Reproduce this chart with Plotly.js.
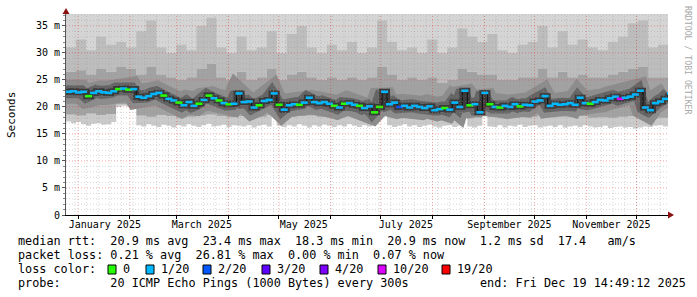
<!DOCTYPE html>
<html><head><meta charset="utf-8">
<script src="https://cdn.plot.ly/plotly-3.0.1.min.js"></script>
<style>html,body{margin:0;padding:0;background:#fff}#chart{width:697px;height:297px}</style>
</head><body><div id="chart"></div>
<script>
// ---- data (milliseconds), one value every 3 days ----
const median = [
22.8,22.9,22.7,22.8,22.0,22.6,22.9,22.7,22.6,22.9,
23.3,23.4,23.2,23.3,21.9,21.7,22.0,22.4,22.6,22.1,
21.5,21.2,20.8,20.3,20.9,20.2,20.6,21.3,22.1,21.6,
21.2,20.7,20.5,20.6,22.5,20.9,21.0,19.9,20.3,21.1,
21.3,22.5,20.4,19.5,20.3,20.5,20.4,20.8,21.7,20.9,
20.7,20.9,20.6,20.2,19.9,20.6,20.7,20.4,20.2,19.8,
20.1,19.0,20.0,22.8,20.5,20.8,20.0,20.2,19.9,20.2,
20.0,19.8,20.1,19.4,19.6,19.8,19.5,20.8,20.0,23.0,
20.3,20.5,19.0,22.6,20.5,20.0,19.9,20.2,20.0,20.5,
20.1,20.4,20.3,21.0,21.2,22.0,20.2,20.6,20.4,20.5,
20.7,20.4,21.7,20.7,20.6,20.9,21.3,21.2,21.6,21.9,
21.5,21.7,21.9,22.3,23.0,19.9,19.4,20.7,21.0,21.5,
22.5];
// packets lost out of 20
const loss = [
1,1,1,1,0,1,1,1,1,1,
0,1,0,1,1,1,1,1,1,0,
1,1,0,1,1,1,0,1,0,1,
0,1,0,1,1,1,1,1,0,1,
1,1,0,1,1,1,0,1,1,1,
1,1,1,0,1,0,1,1,0,1,
1,0,0,1,1,1,2,1,1,1,
1,1,1,1,1,0,1,1,1,1,
0,1,1,1,0,1,0,1,1,1,
0,1,1,1,1,1,1,1,1,1,
1,1,1,1,0,1,1,1,1,1,
10,1,1,1,1,1,1,1,1,1,
1];
// lowest ping
const minPing = [
17.3,17.0,17.2,16.8,16.5,16.9,17.0,16.7,16.8,17.2,
20.0,20.2,20.1,20.3,16.6,16.4,16.8,16.5,16.3,16.7,
16.5,16.2,16.6,16.4,16.8,16.5,16.3,16.6,16.9,16.4,
16.5,16.7,16.3,16.6,16.5,16.4,16.6,16.2,16.5,16.7,
16.4,20.3,16.5,16.3,16.6,16.4,16.8,16.5,16.2,16.6,
16.4,16.7,16.5,16.3,16.6,16.4,16.8,16.5,16.3,16.6,
16.4,17.2,17.8,21.0,16.6,16.3,16.5,16.8,16.4,16.6,
16.3,16.5,16.7,16.4,16.2,16.5,16.6,16.3,16.5,20.6,
16.4,16.2,16.5,20.8,16.4,16.3,16.6,16.2,16.5,16.4,
16.7,16.3,16.5,16.6,16.2,16.4,16.5,16.3,16.6,16.2,
16.4,16.5,16.3,16.6,16.4,16.2,16.3,16.5,16.1,16.3,
16.4,16.2,16.3,16.0,16.2,16.4,16.3,16.5,16.6,16.4,
16.5];
// smoke band edges, one value every 6 days
const smokeLow = [
18.6,18.4,18.8,18.5,18.7,20.5,20.8,18.4,18.2,18.5,
18.3,18.0,18.2,18.4,18.6,18.3,18.1,18.3,18.0,18.2,
18.5,18.0,18.2,18.3,18.4,18.2,18.0,18.1,18.3,18.0,
18.2,18.5,18.3,18.0,18.1,18.0,18.2,17.9,18.0,18.4,
18.3,18.0,18.2,17.9,18.0,18.1,18.2,18.4,18.1,18.2,
18.1,18.3,18.0,18.1,18.0,18.2,18.3,18.4,17.8,18.0,
18.2];
const smokeMid = [
26.5,26.8,26.0,27.0,26.5,27.5,27.0,26.0,27.5,26.0,
25.5,25.0,25.5,27.0,28.0,25.5,25.0,26.5,25.0,25.5,
27.0,25.0,26.0,26.5,25.5,25.0,25.5,25.0,25.5,25.0,
25.5,27.5,26.0,25.0,25.5,25.0,25.5,24.5,25.0,27.0,
26.5,26.0,26.0,25.0,25.0,25.5,25.5,27.0,25.5,26.5,
25.5,26.0,25.5,25.5,26.0,26.5,27.0,27.5,25.5,25.5,
26.0];
const smokeHigh = [
31.0,32.5,30.5,33.0,31.5,32.0,31.0,34.0,36.0,31.0,
30.0,31.5,30.5,35.0,36.5,31.0,30.0,33.0,30.5,31.0,
34.0,30.0,33.5,35.0,31.0,30.0,31.5,30.5,32.0,30.0,
31.0,36.0,32.0,30.5,31.0,30.0,32.5,30.0,31.0,34.5,
33.0,32.0,33.5,30.5,30.0,31.5,32.0,35.0,31.0,34.0,
31.5,32.5,31.0,30.5,32.0,33.0,35.5,36.0,31.0,31.5,
32.0];
const yTickVals = [0,5,10,15,20,25,30,35];
const yTickText = ['0','5 m','10 m','15 m','20 m','25 m','30 m','35 m'];
const xTickVals = ['2025-01-17','2025-03-16','2025-05-16','2025-07-16','2025-09-16','2025-11-16'];
const xTickText = ['January 2025','March 2025','May 2025','July 2025','September 2025','November 2025'];
const lossColors = {0:'#26ff00',1:'#00b8ff',2:'#0059ff',3:'#5e00ff',4:'#7e00ff',10:'#dd00ff',19:'#ff0000'};
const lossKeys = [0,1,2,3,4,10,19];
const lossLabels = ['0','1/20','2/20','3/20','4/20','10/20','19/20'];

// ---- time axis ----
const DAY = 864e5;
const t0 = Date.UTC(2024,11,24,19,0);
const fmt = ms => new Date(ms).toISOString().slice(0,16).replace('T',' ');
const dates3 = median.map((_,i)=>fmt(t0+i*3*DAY));
const datesMid = median.map((_,i)=>fmt(t0+(i*3+1.5)*DAY));
const dates6 = smokeLow.map((_,j)=>fmt(t0+j*6*DAY));
const tEnd = t0+(median.length-1)*3*DAY;

const mono = 'DejaVu Sans Mono, monospace';
const band = (x,y,fill,fc) => ({x:x,y:y,type:'scatter',mode:'lines',line:{width:0,shape:'hv'},fill:fill,fillcolor:fc,hoverinfo:'skip'});
const mline = (w,c,shape) => ({x:dates3,y:median,type:'scatter',mode:'lines',line:{width:w,shape:shape,color:c},hoverinfo:'skip'});
const traces = [
 band(dates6,smokeLow,'tozeroy','#cacaca'),
 band(dates6,smokeMid,'tonexty','#a2a2a2'),
 band(dates6,smokeHigh,'tonexty','#bdbdbd'),
 band(dates3,minPing,'tozeroy','#ffffff'),
 mline(24,'#8c8c8c','linear'),
 mline(13,'#646464','linear'),
 mline(6,'#3a3a3a','hv'),
 mline(1,'#111111','hv'),
 {x:datesMid,y:median,type:'scatter',mode:'markers',
  marker:{symbol:'line-ew',size:5,color:loss.map(l=>lossColors[l]),line:{width:2.6,color:loss.map(l=>lossColors[l])}},hoverinfo:'skip'}
];

// ---- grid as dotted shapes above the smoke ----
const shapes = [];
const minorC = 'rgba(150,150,150,0.38)', majorC = 'rgba(225,40,40,0.42)';
for (let t = Date.UTC(2024,11,30); t <= tEnd; t += 7*DAY)
  shapes.push({type:'line',xref:'x',yref:'paper',x0:fmt(t),x1:fmt(t),y0:0,y1:1,line:{color:minorC,width:1,dash:'1px,2px'},layer:'above'});
for (let m = 0; m < 12; m++) {
  const t = fmt(Date.UTC(2025,m,1));
  shapes.push({type:'line',xref:'x',yref:'paper',x0:t,x1:t,y0:0,y1:1,line:{color:majorC,width:1,dash:'1px,2px'},layer:'above'});
}
for (let v = 1; v <= 37; v++) {
  const maj = v % 5 === 0;
  shapes.push({type:'line',xref:'paper',yref:'y',x0:0,x1:1,y0:v,y1:v,line:{color:maj?majorC:minorC,width:1,dash:'1px,2px'},layer:'above'});
}
// px -> paper helpers
const PX = px => (px-66)/602, PY = py => (215-py)/201;
// axis arrows
shapes.push({type:'path',xref:'paper',yref:'paper',path:`M ${PX(62.5)},${PY(14)} L ${PX(66)},${PY(8)} L ${PX(69.5)},${PY(14)} Z`,fillcolor:'#8b1010',line:{width:0},layer:'above'});
shapes.push({type:'path',xref:'paper',yref:'paper',path:`M ${PX(668)},${PY(211.5)} L ${PX(674)},${PY(215)} L ${PX(668)},${PY(218.5)} Z`,fillcolor:'#8b1010',line:{width:0},layer:'above'});

// ---- legend text ----
const nb = s => s.replace(/ /g,'\u00a0');
const ann = [];
const txt = (px,py,s,opt={}) => ann.push(Object.assign({xref:'paper',yref:'paper',x:PX(px),y:PY(py),xanchor:'left',yanchor:'middle',showarrow:false,text:nb(s),font:{family:mono,size:11.8,color:'#000'}},opt));
txt(16,241,'median rtt:  20.9 ms avg  23.4 ms max  18.3 ms min  20.9 ms now  1.2 ms sd  17.4   am/s');
txt(16,255,'packet loss: 0.21 % avg  26.81 % max  0.00 % min  0.07 % now');
txt(16,269,'loss color:');
const boxX = [108,146,203,262,320,378,442];
lossKeys.forEach((k,n)=>{
  shapes.push({type:'rect',xref:'paper',yref:'paper',x0:PX(boxX[n]),x1:PX(boxX[n]+8),y0:PY(274),y1:PY(265),fillcolor:lossColors[k],line:{color:'#000',width:1}});
  txt(boxX[n]+13,269,lossLabels[n]);
});
txt(16,283,'probe:       20 ICMP Echo Pings (1000 Bytes) every 300s');
txt(478,283,'end: Fri Dec 19 14:49:12 2025');
ann.push({xref:'paper',yref:'paper',x:PX(11),y:PY(115),textangle:-90,showarrow:false,text:'Seconds',font:{family:mono,size:11,color:'#000'},xanchor:'center',yanchor:'middle'});
ann.push({xref:'paper',yref:'paper',x:PX(688),y:PY(60),textangle:90,showarrow:false,text:nb('RRDTOOL / TOBI OETIKER'),font:{family:mono,size:8.2,color:'#a8a8a8'},xanchor:'center',yanchor:'middle'});

const layout = {
  width:697,height:297,margin:{l:66,r:29,t:14,b:82},
  paper_bgcolor:'#fff',plot_bgcolor:'#d5d5d5',showlegend:false,
  xaxis:{type:'date',range:[fmt(t0),fmt(tEnd)],showgrid:false,zeroline:false,showline:true,linecolor:'#000',linewidth:1,
    tickmode:'array',tickvals:xTickVals,ticktext:xTickText,ticks:'',tickfont:{family:mono,size:10,color:'#000'},
    minor:{tickmode:'array',tickvals:Array.from({length:12},(_,m)=>fmt(Date.UTC(2025,m,1))),ticks:'outside',ticklen:3,tickcolor:'#000',showgrid:false},
    fixedrange:true},
  yaxis:{range:[0,37.2],showgrid:false,zeroline:false,showline:true,linecolor:'#555',linewidth:1,
    tickmode:'array',tickvals:yTickVals,ticktext:yTickText,ticks:'outside',ticklen:3,tickcolor:'#555',
    tickfont:{family:mono,size:10,color:'#000'},
    minor:{dtick:1,ticks:'outside',ticklen:2,tickcolor:'#888',showgrid:false},fixedrange:true},
  shapes:shapes,annotations:ann
};
Plotly.newPlot('chart',traces,layout,{staticPlot:true,displayModeBar:false});
</script></body></html>
